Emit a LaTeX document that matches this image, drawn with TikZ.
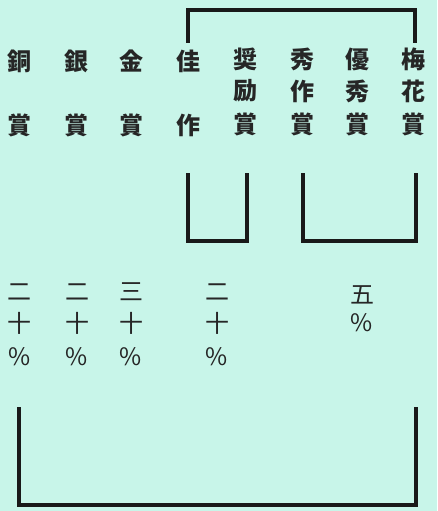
\documentclass[tikz,border=0pt]{standalone}
\usepackage{fontspec}
\setmainfont{Noto Sans CJK JP}
\definecolor{bgmint}{RGB}{200,245,233}
\tikzset{
  zi/.style={inner sep=0pt,font=\fontsize{24}{24}\selectfont\bfseries,text=black!85},
  shu/.style={inner sep=0pt,font=\fontsize{24}{24}\selectfont,text=black!85},
  bracket/.style={line width=3.2pt,black!90}
}
\begin{document}
\begin{tikzpicture}[x=1pt,y=-1pt]
    \fill[bgmint] (0,0) rectangle (437,511);
    % award names
    \node[zi] (tong1) at (19,61) {銅};  \node[zi] (tong3) at (19,125) {賞};
    \node[zi] (yin1) at (76,61) {銀};   \node[zi] (yin3) at (76,125) {賞};
    \node[zi] (jin1) at (131,61) {金};  \node[zi] (jin3) at (131,125) {賞};
    \node[zi] (jia1) at (188,61) {佳};  \node[zi] (jia3) at (188,125) {作};
    \node[zi] (jiang1) at (245,59) {奨}; \node[zi] (jiang2) at (245,91) {励}; \node[zi] (jiang3) at (245,124) {賞};
    \node[zi] (xiu1) at (302,59) {秀};  \node[zi] (xiu2) at (302,91) {作};  \node[zi] (xiu3) at (302,124) {賞};
    \node[zi] (you1) at (357,59) {優};  \node[zi] (you2) at (357,91) {秀};  \node[zi] (you3) at (357,124) {賞};
    \node[zi] (mei1) at (413,59) {梅};  \node[zi] (mei2) at (413,91) {花};  \node[zi] (mei3) at (413,124) {賞};
    % shares
    \node[shu] (p1a) at (20,292) {二};  \node[shu] (p1b) at (20,323) {十};  \node[shu] (p1c) at (20,357) {\%};
    \node[shu] (p2a) at (77,292) {二};  \node[shu] (p2b) at (77,323) {十};  \node[shu] (p2c) at (77,357) {\%};
    \node[shu] (p3a) at (131,292) {三}; \node[shu] (p3b) at (131,323) {十}; \node[shu] (p3c) at (131,357) {\%};
    \node[shu] (p4a) at (217,292) {二}; \node[shu] (p4b) at (217,323) {十}; \node[shu] (p4c) at (217,357) {\%};
    \node[shu] (p5a) at (362,295) {五}; \node[shu] (p5b) at (362,323) {\%};
    % brackets
    \coordinate (topL) at (188,43);  \coordinate (topR) at (415,43);
    \coordinate (lowAL) at (188,173); \coordinate (lowAR) at (247,173);
    \coordinate (lowBL) at (303,173); \coordinate (lowBR) at (416,173);
    \coordinate (botL) at (19,407);   \coordinate (botR) at (416,407);
    \draw[bracket] (topL) -- ++(0,-33) -| (topR);
    \draw[bracket] (lowAL) -- ++(0,68) -| (lowAR);
    \draw[bracket] (lowBL) -- ++(0,68) -| (lowBR);
    \draw[bracket] (botL) -- ++(0,98) -| (botR);
\end{tikzpicture}
\end{document}
